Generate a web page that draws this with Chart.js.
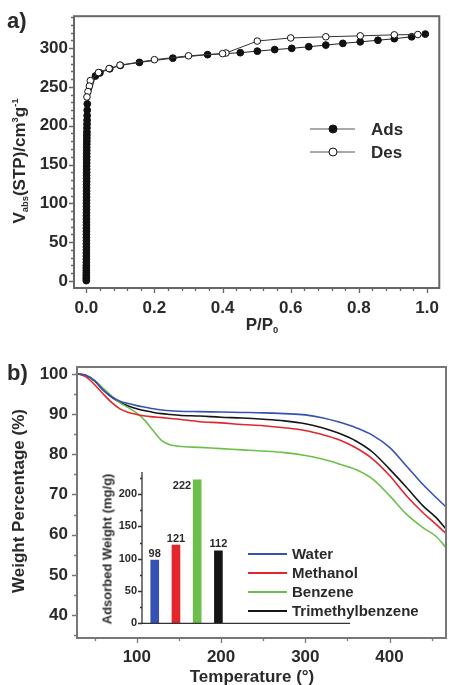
<!DOCTYPE html>
<html lang="en">
<head>
<meta charset="UTF-8">
<title>N2 isotherm and TGA of adsorbed guests</title>
<script src="https://cdn.jsdelivr.net/npm/chart.js"></script>
<style>
  body { margin: 0; background: #fff; font-family: "Liberation Sans", Arial, sans-serif; }
  #page { position: relative; width: 449px; height: 685px; overflow: hidden; }
  canvas { position: absolute; }
  .lbl { position: absolute; font-weight: bold; color: #2a2a2a; white-space: nowrap; line-height: 1; }
  .ctr { transform: translate(-50%, -50%); }
  .rot { transform: translate(-50%, -50%) rotate(-90deg); }
  .lbl sub { font-size: 0.55em; vertical-align: -0.3em; }
  .lbl sup { font-size: 0.55em; vertical-align: 0.75em; }
</style>
</head>
<body>
<div id="page">
  <canvas id="chartA" width="449" height="340" style="left:0;top:0"></canvas>
  <canvas id="chartB" width="449" height="345" style="left:0;top:340px"></canvas>
  <canvas id="inset" width="265" height="175" style="left:90px;top:460px"></canvas>

  <div class="lbl" style="left:7px;top:10px;font-size:22px">a)</div>
  <div class="lbl rot" style="left:21px;top:161px;font-size:17px">V<sub>abs</sub>(STP)/cm<sup>3</sup>g<sup>-1</sup></div>
  <div class="lbl ctr" style="left:262px;top:326px;font-size:17px">P/P<sub>0</sub></div>

  <div class="lbl" style="left:7px;top:362px;font-size:22px">b)</div>
  <div class="lbl rot" style="left:18px;top:501px;font-size:17px">Weight Percentage (%)</div>
  <div class="lbl ctr" style="left:252px;top:676px;font-size:17px">Temperature (°)</div>
  <div class="lbl rot" style="left:107px;top:549px;font-size:13px">Adsorbed Weight (mg/g)</div>
</div>

<script>
// ---- panel a: sorption isotherm (P/P0 vs uptake) ----
const adsP = [0.0001, 0.0001, 0.0001, 0.0001, 0.0002, 0.0002, 0.0002, 0.0002, 0.0003, 0.0003,
              0.0003, 0.0003, 0.0004, 0.0004, 0.0004, 0.0004, 0.0005, 0.0005, 0.0005, 0.0005,
              0.0006, 0.0006, 0.0006, 0.0006, 0.0007, 0.0007, 0.0007, 0.0007, 0.0008, 0.0008,
              0.0008, 0.0009, 0.0009, 0.0009, 0.0010, 0.0010, 0.0010, 0.0011, 0.0011, 0.0011,
              0.0012, 0.0012, 0.0013, 0.0013, 0.0014, 0.0014, 0.0015, 0.0016, 0.0017, 0.0018,
              0.0019, 0.0020, 0.0022, 0.0024, 0.0026, 0.0028, 0.0030,
              0.027, 0.040, 0.069, 0.100, 0.156, 0.254, 0.356, 0.452, 0.502, 0.553,
              0.603, 0.653, 0.703, 0.753, 0.804, 0.856, 0.904, 0.955, 0.995];
const adsV = [0.5, 3, 5.5, 8, 11, 14, 17, 20, 24, 28,
              32, 36, 40, 44, 48, 52, 56, 60, 64, 68,
              72, 76, 80, 84, 88, 92, 96, 100, 104, 108,
              112, 116, 120, 124, 128, 132, 136, 140, 144, 148,
              152, 156, 160, 164, 168, 172, 176, 180, 184, 188,
              192, 197, 202, 207, 213, 220, 228,
              264, 268, 273.3, 277.6, 281.5, 287, 291.5, 294, 296, 298,
              299.6, 301.7, 303.8, 306, 308, 310, 312, 314.5, 318];
const desP = [0.973, 0.904, 0.804, 0.703, 0.600, 0.502, 0.410, 0.400, 0.300, 0.200,
              0.099, 0.067, 0.036, 0.012, 0.009, 0.005, 0.002];
const desV = [317.4, 317, 315.7, 314.5, 313, 309, 293.6, 292.8, 290, 285,
              278, 273.6, 268.5, 258, 251, 244, 237];
const xTicksA = [0, 0.2, 0.4, 0.6, 0.8, 1.0];
const yTicksA = [0, 50, 100, 150, 200, 250, 300];
const seriesA = ['Ads', 'Des'];

// ---- panel b: TGA curves after guest uptake ----
const temps    = [30, 40, 50, 60, 70, 80, 90, 100, 110, 120, 130, 140, 150, 175, 200, 225, 250, 275, 300, 320, 340, 360, 380, 400, 420, 440, 455, 467];
const water    = [100.0, 99.6, 98.3, 96.0, 94.3, 93.2, 92.6, 92.1, 91.7, 91.3, 91.0, 90.8, 90.7, 90.6, 90.5, 90.4, 90.3, 90.1, 89.8, 89.1, 88.0, 86.6, 84.7, 81.7, 77.1, 72.4, 69.3, 66.9];
const methanol = [100.0, 99.2, 97.3, 95.0, 92.9, 91.3, 90.4, 89.9, 89.5, 89.3, 89.1, 88.9, 88.7, 88.1, 87.8, 87.4, 87.1, 86.6, 85.9, 84.9, 83.6, 81.6, 78.8, 74.7, 69.7, 65.4, 62.6, 60.3];
const benzene  = [100.0, 99.6, 98.3, 96.4, 94.5, 92.8, 91.6, 90.2, 88.3, 85.7, 83.3, 82.3, 82.0, 81.7, 81.4, 81.1, 80.8, 80.4, 79.7, 78.8, 77.6, 76.2, 73.8, 69.7, 65.1, 61.7, 59.6, 56.8];
const tmb      = [100.0, 99.6, 98.2, 96.0, 94.2, 92.9, 92.0, 91.3, 90.8, 90.4, 90.1, 89.9, 89.7, 89.5, 89.2, 89.0, 88.7, 88.3, 87.6, 86.6, 85.2, 83.3, 80.5, 76.3, 71.8, 67.1, 64.3, 61.4];
const solvents = ['Water', 'Methanol', 'Benzene', 'Trimethylbenzene'];
const xTicksB = [100, 200, 300, 400];
const yTicksB = [40, 50, 60, 70, 80, 90, 100];

// ---- inset: adsorbed weight ----
const adsorbed = [98, 121, 222, 112];
const yTicksInset = [0, 50, 100, 150, 200];

const colors = ['#3552b3', '#e3262d', '#6cc04a', '#151515'];
const FONT = '"Liberation Sans", Arial, sans-serif';
const TXT = '#2a2a2a';
Chart.defaults.font.family = FONT;
Chart.defaults.color = TXT;

function tickValues(min, max, step) {
    const out = [];
    for (let k = Math.ceil(min / step - 1e-9); k * step <= max + 1e-9; k++) out.push(k * step);
    return out;
}
const isMajor = (v, m) => Math.abs(v / m - Math.round(v / m)) < 1e-6;

// frame + outward major/minor ticks
function decoPlugin(cfg) {
    return {
        id: 'deco',
        afterDraw(chart) {
            const { ctx, chartArea: a } = chart;
            const xs = chart.scales.x, ys = chart.scales.y;
            ctx.save();
            ctx.strokeStyle = cfg.color;
            ctx.lineWidth = cfg.frameWidth;
            ctx.strokeRect(a.left, a.top, a.right - a.left, a.bottom - a.top);
            ctx.lineWidth = 1.3;
            ctx.beginPath();
            tickValues(xs.min, xs.max, cfg.xMinor).forEach(v => {
                const px = Math.round(xs.getPixelForValue(v)) + 0.5;
                ctx.moveTo(px, a.bottom);
                ctx.lineTo(px, a.bottom + (isMajor(v, cfg.xMajor) ? 5 : 3));
            });
            tickValues(ys.min, ys.max, cfg.yMinor).forEach(v => {
                const py = Math.round(ys.getPixelForValue(v)) + 0.5;
                ctx.moveTo(a.left, py);
                ctx.lineTo(a.left - (isMajor(v, cfg.yMajor) ? 5 : 3), py);
            });
            ctx.stroke();
            ctx.restore();
        }
    };
}

// panel a legend (line + marker)
const legendA = {
    id: 'legendA',
    afterDraw(chart) {
        const ctx = chart.ctx;
        const rows = [[129, '#111'], [152, '#fff']];
        ctx.save();
        rows.forEach(([y, fill], i) => {
            ctx.strokeStyle = '#555';
            ctx.lineWidth = 1;
            ctx.beginPath();
            ctx.moveTo(310, y); ctx.lineTo(355, y);
            ctx.stroke();
            ctx.beginPath();
            ctx.arc(333, y, 4, 0, Math.PI * 2);
            ctx.fillStyle = fill; ctx.fill();
            ctx.strokeStyle = '#111'; ctx.stroke();
            ctx.fillStyle = TXT;
            ctx.font = 'bold 17px ' + FONT;
            ctx.textBaseline = 'middle';
            ctx.fillText(seriesA[i], 371, y + 1);
        });
        ctx.restore();
    }
};

// panel b legend
const legendB = {
    id: 'legendB',
    afterDraw(chart) {
        const ctx = chart.ctx;
        ctx.save();
        solvents.forEach((name, i) => {
            const y = 214 + i * 19;
            ctx.strokeStyle = colors[i];
            ctx.lineWidth = 1.8;
            ctx.beginPath();
            ctx.moveTo(248, y); ctx.lineTo(287, y);
            ctx.stroke();
            ctx.fillStyle = TXT;
            ctx.font = 'bold 15px ' + FONT;
            ctx.textBaseline = 'middle';
            ctx.fillText(name, 292, y + 1);
        });
        ctx.restore();
    }
};

const toXY = (xs, ys) => xs.map((x, i) => ({ x, y: ys[i] }));
const fixTicks = vals => s => { s.ticks = vals.map(v => ({ value: v })); };
const noGrid = { display: false, drawTicks: false };

// ---------- chart a ----------
new Chart(document.getElementById('chartA'), {
    type: 'line',
    data: {
        datasets: [{
            label: 'Des',
            data: toXY(desP, desV),
            borderColor: '#333', borderWidth: 1,
            pointRadius: 3.3, pointBorderWidth: 1,
            pointBackgroundColor: '#fff', pointBorderColor: '#111',
            tension: 0
        }, {
            label: 'Ads',
            data: toXY(adsP, adsV),
            borderColor: '#222', borderWidth: 1,
            pointRadius: 3.4, pointBorderWidth: 1,
            pointBackgroundColor: '#111', pointBorderColor: '#111',
            tension: 0
        }]
    },
    options: {
        responsive: false, animation: false,
        layout: { padding: { top: 14, right: 2, left: 0, bottom: 0 } },
        plugins: { legend: { display: false }, tooltip: { enabled: false } },
        scales: {
            x: {
                type: 'linear', min: -0.036, max: 1.036,
                afterBuildTicks: fixTicks(xTicksA),
                afterFit: s => { s.height = 52; },
                grid: noGrid, border: { display: false },
                ticks: { padding: 10, maxRotation: 0, font: { size: 17, weight: 'bold' }, callback: v => v.toFixed(1) }
            },
            y: {
                min: -9, max: 341,
                afterBuildTicks: fixTicks(yTicksA),
                afterFit: s => { s.width = 74; },
                grid: noGrid, border: { display: false },
                ticks: { padding: 6, font: { size: 17, weight: 'bold' } }
            }
        }
    },
    plugins: [decoPlugin({ color: '#666', frameWidth: 2, xMajor: 0.2, xMinor: 0.04, yMajor: 50, yMinor: 10 }), legendA]
});

// ---------- chart b ----------
const tgaSeries = [water, methanol, benzene, tmb];
new Chart(document.getElementById('chartB'), {
    type: 'line',
    data: {
        datasets: tgaSeries.map((vals, i) => ({
            label: solvents[i],
            data: toXY(temps, vals),
            borderColor: colors[i], borderWidth: 1.6,
            pointRadius: 0, cubicInterpolationMode: 'monotone'
        }))
    },
    options: {
        responsive: false, animation: false,
        layout: { padding: { top: 27, right: 3, left: 0, bottom: 0 } },
        plugins: { legend: { display: false }, tooltip: { enabled: false } },
        scales: {
            x: {
                type: 'linear', min: 29, max: 467,
                afterBuildTicks: fixTicks(xTicksB),
                afterFit: s => { s.height = 47; },
                grid: noGrid, border: { display: false },
                ticks: { padding: 9, maxRotation: 0, font: { size: 17, weight: 'bold' } }
            },
            y: {
                min: 34.3, max: 101.7,
                afterBuildTicks: fixTicks(yTicksB),
                afterFit: s => { s.width = 77; },
                grid: noGrid, border: { display: false },
                ticks: { padding: 9, font: { size: 17, weight: 'bold' } }
            }
        }
    },
    plugins: [decoPlugin({ color: '#777', frameWidth: 2, xMajor: 100, xMinor: 50, yMajor: 10, yMinor: 5 }), legendB]
});

// ---------- inset ----------
const insetDeco = {
    id: 'insetDeco',
    afterDraw(chart) {
        const { ctx, chartArea: a } = chart;
        const ys = chart.scales.y;
        ctx.save();
        ctx.strokeStyle = '#333';
        ctx.lineWidth = 1.3;
        ctx.beginPath();
        ctx.moveTo(a.left, a.top); ctx.lineTo(a.left, a.bottom); ctx.lineTo(a.right, a.bottom);
        tickValues(ys.min, ys.max, 25).forEach(v => {
            const py = Math.round(ys.getPixelForValue(v)) + 0.5;
            ctx.moveTo(a.left, py);
            ctx.lineTo(a.left - (isMajor(v, 50) ? 4 : 2), py);
        });
        ctx.stroke();
        // value labels
        ctx.fillStyle = TXT;
        ctx.font = 'bold 11px ' + FONT;
        chart.getDatasetMeta(0).data.forEach((bar, i) => {
            const txt = String(adsorbed[i]);
            if (bar.y - 14 < a.top) {
                ctx.textAlign = 'right'; ctx.textBaseline = 'middle';
                ctx.fillText(txt, bar.x - 6, bar.y + 6);
            } else {
                ctx.textAlign = 'center'; ctx.textBaseline = 'bottom';
                ctx.fillText(txt, bar.x, bar.y - 1);
            }
        });
        ctx.restore();
    }
};

new Chart(document.getElementById('inset'), {
    type: 'bar',
    data: {
        datasets: [{
            data: adsorbed.map((v, i) => ({ x: i, y: v })),
            backgroundColor: colors,
            barThickness: 8
        }]
    },
    options: {
        responsive: false, animation: false,
        layout: { padding: { top: 12, right: 5, left: 0, bottom: 11 } },
        plugins: { legend: { display: false }, tooltip: { enabled: false } },
        scales: {
            x: { type: 'linear', min: -0.6, max: 9.2, offset: false, display: false },
            y: {
                min: 0, max: 234,
                afterBuildTicks: fixTicks(yTicksInset),
                afterFit: s => { s.width = 52; },
                grid: noGrid, border: { display: false },
                ticks: { padding: 5, font: { size: 11, weight: 'bold' } }
            }
        }
    },
    plugins: [insetDeco]
});
</script>
</body>
</html>
